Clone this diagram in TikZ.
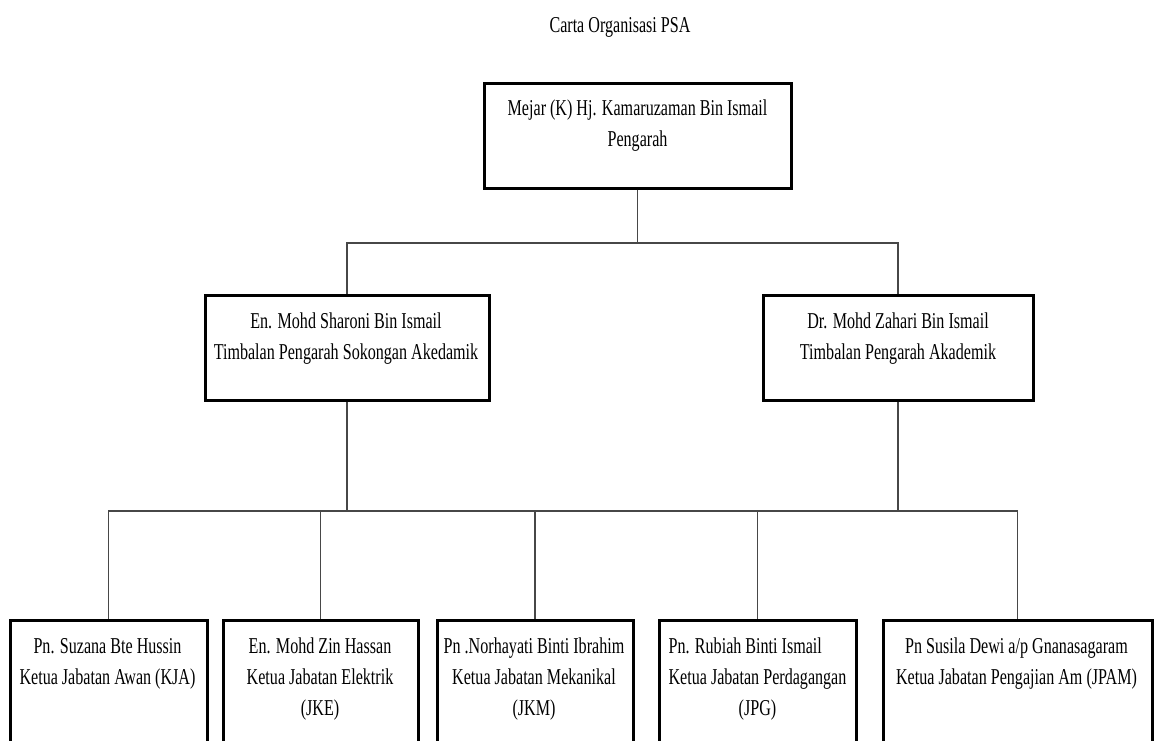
\documentclass[tikz,border=0pt]{standalone}
\usepackage{fontspec}
\setmainfont{Liberation Serif}[FakeStretch=0.71]
\usetikzlibrary{fit}
\tikzset{
  box/.style={draw=black, line width=2.25pt, inner sep=0pt, fill=none},
  conn/.style={draw=black!72, line width=1.1pt},
  txt/.style={anchor=base, inner sep=0pt, font=\fontsize{17}{23.6}\selectfont},
}
\begin{document}
\begin{tikzpicture}[x=0.75pt, y=-0.75pt]
\useasboundingbox (0,0) rectangle (1156,740);
\clip (0,0) rectangle (1156,740);
\fill[white] (0,0) rectangle (1156,740);

\node[txt] (title) at (620,32) {Carta Organisasi PSA};

% boxes
\node[box, fit={(484,83) (791,188)}] (top) {};
\node[box, fit={(205,295) (489,400)}] (midL) {};
\node[box, fit={(763,295) (1033,400)}] (midR) {};
\node[box, fit={(10,620) (207,770)}] (b1) {};
\node[box, fit={(223,620) (418,770)}] (b2) {};
\node[box, fit={(437,620) (633,770)}] (b3) {};
\node[box, fit={(659,620) (856,770)}] (b4) {};
\node[box, fit={(883,620) (1152,770)}] (b5) {};

% texts
\node[txt] (ttop) at (637.5,115) {\begin{tabular}[t]{@{}c@{}}Mejar (K) Hj. Kamaruzaman Bin Ismail\\Pengarah\end{tabular}};
\node[txt] (tmidL) at (346,328) {\begin{tabular}[t]{@{}c@{}}En. Mohd Sharoni Bin Ismail\\Timbalan Pengarah Sokongan Akedamik\end{tabular}};
\node[txt] (tmidR) at (898,328) {\begin{tabular}[t]{@{}c@{}}Dr. Mohd Zahari Bin Ismail\\Timbalan Pengarah Akademik\end{tabular}};
\node[txt] (tb1) at (107.5,653) {\begin{tabular}[t]{@{}c@{}}Pn. Suzana Bte Hussin\\Ketua Jabatan Awan (KJA)\end{tabular}};
\node[txt] (tb2) at (320,653) {\begin{tabular}[t]{@{}c@{}}En. Mohd Zin Hassan\\Ketua Jabatan Elektrik\\(JKE)\end{tabular}};
\node[txt] (tb3) at (534,653) {\begin{tabular}[t]{@{}c@{}}Pn .Norhayati Binti Ibrahim\\Ketua Jabatan Mekanikal\\(JKM)\end{tabular}};
\node[txt] (tb4) at (757.5,653) {\begin{tabular}[t]{@{}c@{}}\multicolumn{1}{@{}l@{}}{Pn. Rubiah Binti Ismail}\\Ketua Jabatan Perdagangan\\(JPG)\end{tabular}};
\node[txt] (tb5) at (1016.5,653) {\begin{tabular}[t]{@{}c@{}}Pn Susila Dewi a/p Gnanasagaram\\Ketua Jabatan Pengajian Am (JPAM)\end{tabular}};

% connectors
\coordinate (j1) at (637.5,243);
\coordinate (j2) at (347,511);
\draw[conn] (top.south) -- (j1);
\draw[conn] (midL.north) |- (j1);
\draw[conn] (j1) -| (midR.north);
\draw[conn] (midL.south) -- (midL.south |- j2);
\draw[conn] (midR.south) -- (midR.south |- j2);
\draw[conn] (b1.north) -- (b1.north |- j2) -| (b5.north);
\draw[conn] (b2.north) -- (b2.north |- j2);
\draw[conn] (b3.north) -- (b3.north |- j2);
\draw[conn] (b4.north) -- (b4.north |- j2);
\end{tikzpicture}
\end{document}
